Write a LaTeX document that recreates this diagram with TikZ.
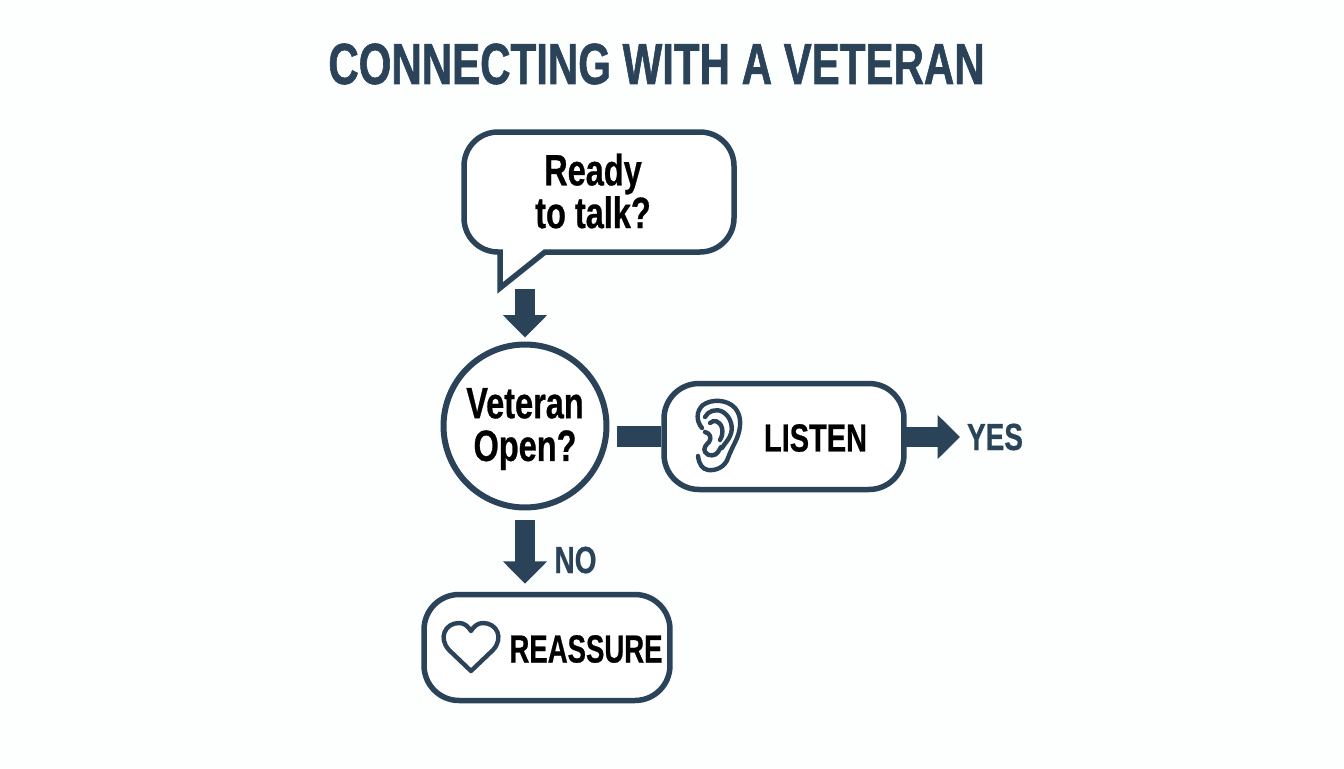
\documentclass[tikz,border=0pt]{standalone}
\usepackage{fontspec}
\setmainfont[FakeStretch=0.74,FakeBold=0.6]{Liberation Sans}
\newfontfamily\titlefont[FakeStretch=0.725,FakeBold=1]{Liberation Sans}
\usetikzlibrary{arrows.meta}
\definecolor{navy}{HTML}{2A4359}
\definecolor{paper}{HTML}{FDFEFE}
\tikzset{
  boxed/.style={draw=navy,line width=5.5*0.02cm,fill=white,rounded corners=0.7cm,minimum height=2.12cm},
  ask/.style={font=\bfseries\fontsize{25}{24.3}\selectfont,align=center,text=black},
  label/.style={font=\bfseries\fontsize{22.3}{23}\selectfont,text=black},
  tag/.style={font=\bfseries\fontsize{21.5}{23}\selectfont,text=navy},
  flow/.style={draw=navy,line width=0.41cm,-{Triangle[width=0.86cm,length=0.45cm]}},
  icon/.style={draw=navy,line width=4.4*0.02cm,line cap=round,line join=round},
}
\begin{document}
\begin{tikzpicture}[x=0.02cm,y=-0.02cm]
   \useasboundingbox[fill=paper] (0,0) rectangle (1344,768);
   % title
   \node[font=\titlefont\bfseries\fontsize{33}{36}\selectfont,text=navy] (title) at (656.5,64) {CONNECTING WITH A VETERAN};

   % speech bubble
   \draw[navy,line width=5.5*0.02cm,fill=white,line join=miter]
      (500,288) -- (545,252) [rounded corners=0.68cm] -- (734,252) -- (734,132)
      -- (464,132) -- (464,252) [sharp corners] -- (500,252) -- cycle;
   \coordinate (bubble) at (599,252);
   \node[ask] (ready) at (593,191) {Ready\\to talk?};

   % main nodes
   \node[draw=navy,line width=6*0.02cm,circle,fill=white,minimum size=3.26cm,inner sep=0pt] (open) at (525,426) {};
   \node[ask] (opentext) at (525,429) {Veteran\\Open?};
   \node[boxed,minimum width=4.8cm] (listen) at (784,436.5) {};
   \node[boxed,minimum width=4.92cm] (reassure) at (547,647.5) {};
   \node[label] (listentext) at (815.5,438) {LISTEN};
   \node[label,xscale=0.95] (reassuretext) at (586,649) {REASSURE};

   % arrows
   \draw[flow,shorten <=37*0.02cm,shorten >=4*0.02cm] (open.north |- bubble) -- (open.north);
   \draw[flow,shorten <=10*0.02cm,shorten >=8*0.02cm] (open.south) -- (reassure.north -| open.south);
   \draw[navy,line width=0.41cm,shorten <=8*0.02cm] (open.east |- listen.west) -- (listen.west);
   \coordinate (yesend) at (960,437);
   \draw[flow,shorten <=-3*0.02cm] (listen.east |- yesend) -- (yesend);
   \node[tag] (yes) at (995,437) {YES};
   \node[tag] (no) at (575.5,560) {NO};

   % ear
   \draw[icon] (702,428) .. controls (696,421) and (696,411) .. (703,405)
      .. controls (711,399) and (727,399) .. (735,408)
      .. controls (742,416) and (741,428) .. (737,438)
      .. controls (733,447) and (730,452) .. (728,458)
      .. controls (725,467) and (716,471) .. (708,470)
      .. controls (702,469) and (699,464) .. (698,456);
   \draw[icon] (705,417) .. controls (708,411) and (716,408) .. (723,412)
      .. controls (731,417) and (734,428) .. (730,436)
      .. controls (728,441) and (724,444) .. (722,448);
   \draw[icon] (710,423) .. controls (714,419) and (720,421) .. (722,428)
      .. controls (723,432) and (722,437) .. (720,440);
   \draw[icon] (705,432) .. controls (710,433) and (712,438) .. (709,442)
      .. controls (706,445) and (703,448) .. (705,452)
      .. controls (708,457) and (716,456) .. (718,452) -- (721,447);

   % heart
   \draw[icon] (471,671) -- (449,650)
      .. controls (438,638) and (445,623) .. (459,623)
      .. controls (464,623) and (468,626) .. (471,631)
      .. controls (474,626) and (478,623) .. (483,623)
      .. controls (497,623) and (504,638) .. (493,650) -- cycle;
\end{tikzpicture}
\end{document}
